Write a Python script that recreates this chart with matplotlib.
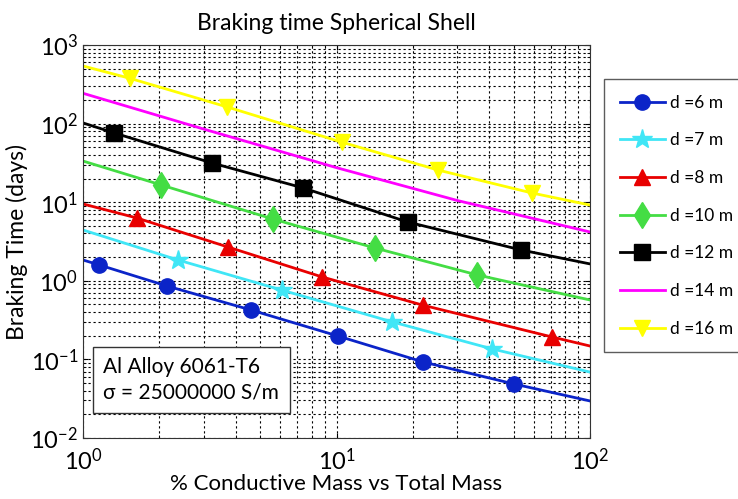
import matplotlib
matplotlib.use("Agg")
import matplotlib.pyplot as plt

plt.rcParams['font.family'] = ['Lato', 'DejaVu Sans']
plt.rcParams['mathtext.default'] = 'regular'

# values (x = % conductive mass, y = braking time in days)
x_d6 = [1.0, 1.16, 2.14, 4.6, 10.1, 21.9, 50.1, 100]
y_d6 = [1.84, 1.59, 0.86, 0.425, 0.199, 0.093, 0.0487, 0.0296]

x_d7 = [1.0, 2.37, 6.1, 16.6, 41.1, 100]
y_d7 = [4.43, 1.84, 0.76, 0.30, 0.136, 0.069]

x_d8 = [1.0, 1.63, 3.73, 8.77, 21.9, 70.8, 100]
y_d8 = [9.5, 6.3, 2.69, 1.12, 0.49, 0.193, 0.148]

x_d10 = [1.0, 2.03, 5.62, 14.2, 35.8, 100]
y_d10 = [33.4, 16.6, 6.1, 2.61, 1.19, 0.57]

x_d12 = [1.0, 1.33, 3.23, 7.38, 19.1, 53.4, 100]
y_d12 = [102, 75.9, 31.5, 15.2, 5.6, 2.47, 1.64]

x_d14 = [1.0, 3.0, 10.0, 30.0, 100]
y_d14 = [243, 85, 27.5, 10.5, 4.18]

x_d16 = [1.0, 1.53, 3.70, 10.5, 25.1, 59.0, 100]
y_d16 = [541, 377, 163, 58, 25.7, 13.1, 9.2]

series = [
    ("d =6 m", x_d6, y_d6, "#0b24c8", "o", 11),
    ("d =7 m", x_d7, y_d7, "#40e6f6", "*", 15),
    ("d =8 m", x_d8, y_d8, "#e80000", "^", 11),
    ("d =10 m", x_d10, y_d10, "#44dd44", "d", 13),
    ("d =12 m", x_d12, y_d12, "black", "s", 11),
    ("d =14 m", x_d14, y_d14, "#ff00ff", None, 0),
    ("d =16 m", x_d16, y_d16, "#ffff00", "v", 12),
]

fig = plt.figure(figsize=(7.38, 4.99), dpi=100)
ax = fig.add_axes([83/738, 1 - 438/499, 507/738, 393/499])

for label, xs, ys, col, mk, ms in series:
    if mk:
        ax.plot(xs, ys, color=col, lw=2, marker=mk, markersize=ms,
                markevery=list(range(1, len(xs) - 1)), label=label)
    else:
        ax.plot(xs, ys, color=col, lw=2, label=label)

ax.set_xscale("log")
ax.set_yscale("log")
ax.set_xlim(1, 100)
ax.set_ylim(1e-2, 1e3)
ax.grid(True, which="both", color="black", linestyle=(0, (2, 2.5)), linewidth=0.8)
ax.tick_params(which="both", direction="in", labelsize=17, top=True, right=True)
ax.tick_params(axis="x", pad=7)
for s in ax.spines.values():
    s.set_color("#333333")

ax.set_title("Braking time Spherical Shell", fontsize=16.5, pad=11)
ax.set_xlabel("% Conductive Mass vs Total Mass", fontsize=16, labelpad=0)
ax.set_ylabel("Braking Time (days)", fontsize=16.5, labelpad=2)

ax.text(0.04, 0.09, "Al Alloy 6061-T6\n\u03c3 = 25000000 S/m", transform=ax.transAxes,
        fontsize=15, va="bottom", ha="left", linespacing=1.35,
        bbox=dict(boxstyle="square,pad=0.5", fc="white", ec="#333333", lw=1))

leg = fig.legend(loc="upper left", bbox_to_anchor=(604/738, 1 - 79/499), fontsize=12.5,
                 frameon=True, fancybox=False, edgecolor="#333333", borderpad=0.9,
                 borderaxespad=0, labelspacing=1.25, handlelength=2.6, handletextpad=0.3)
leg.get_frame().set_linewidth(1)

fig.savefig("out.png", dpi=100)
